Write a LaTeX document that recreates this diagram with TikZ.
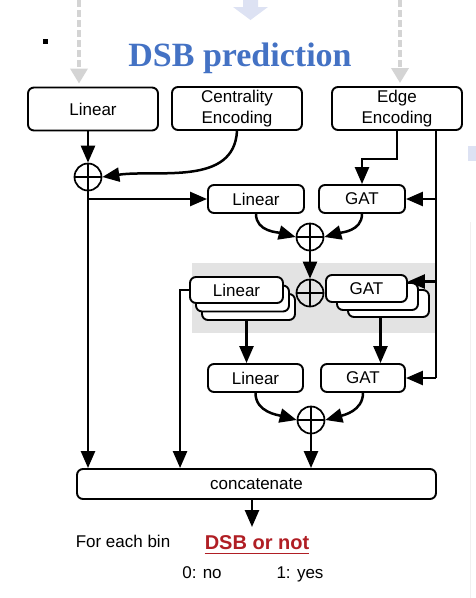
\documentclass[tikz,border=0pt]{standalone}
\usepackage{fontspec}
\setmainfont{Liberation Sans}
\newfontfamily\titlefont{Liberation Serif}
\usetikzlibrary{arrows.meta}
\definecolor{titleblue}{RGB}{68,114,196}
\definecolor{dsbred}{RGB}{176,30,36}
\definecolor{bandgrey}{RGB}{227,227,227}
\definecolor{hintgrey}{RGB}{212,212,212}
\definecolor{hintblue}{RGB}{221,226,243}
\begin{document}
\begin{tikzpicture}[x=1pt, y=1pt, font=\fontsize{17}{21}\selectfont,
    blk/.style={draw, fill=white, line width=1.9pt, rounded corners=6pt, inner sep=2pt, align=center},
    plus/.style={circle, draw, line width=1.7pt, minimum size=27pt, inner sep=0pt,
      path picture={\draw[line width=1.7pt] (path picture bounding box.north) -- (path picture bounding box.south)
        (path picture bounding box.west) -- (path picture bounding box.east);}},
    arr/.style={line width=2.5pt, -{Triangle[length=17pt,width=14pt]}},
    link/.style={line width=2.5pt},
    hint/.style={hintgrey, line width=3.5pt, dash pattern=on 7pt off 3pt, -{Triangle[length=15pt,width=17pt]}}]
    \useasboundingbox (0,0) rectangle (476,-598);

    \fill (43,-39) rectangle (48,-44);
    \fill[hintblue] (243,0) -- (258,0) -- (258,-7) -- (268,-7) -- (250.5,-20) -- (233,-7) -- (243,-7) -- cycle;
    \fill[hintblue] (468,-146) rectangle (476,-161);
    \draw[gray!12, line width=1pt] (470,-222) -- (470,-598);
    \fill[bandgrey] (192,-263) rectangle (436,-333);

    \node[font=\titlefont\bfseries\fontsize{34}{40}\selectfont, text=titleblue, anchor=base] (title) at (240,-66) {DSB prediction};

    \node[blk, minimum width=130pt, minimum height=43pt] (lin1) at (93,-109) {Linear};
    \node[blk, minimum width=130pt, minimum height=43pt] (cen) at (237,-108.5) {Centrality\\Encoding};
    \node[blk, minimum width=130pt, minimum height=43pt] (edge) at (397,-108.5) {Edge\\Encoding};

    \node[plus] (p1) at (88,-177) {};

    \node[blk, minimum width=96pt, minimum height=28pt] (lin2) at (256,-199) {Linear};
    \node[blk, minimum width=86pt, minimum height=28pt] (gat2) at (362,-199) {GAT};
    \node[plus] (p2) at (310,-237) {};

    \node[blk, minimum width=93pt, minimum height=26pt] (lin3c) at (248.5,-307) {};
    \node[blk, minimum width=93pt, minimum height=26pt] (lin3b) at (242.5,-298.5) {};
    \node[blk, minimum width=93pt, minimum height=26pt] (lin3) at (236.5,-290) {Linear};
    \node[blk, minimum width=81pt, minimum height=27pt] (gat3c) at (388.5,-303.5) {};
    \node[blk, minimum width=81pt, minimum height=27pt] (gat3b) at (377.5,-296.5) {};
    \node[blk, minimum width=81pt, minimum height=27pt] (gat3) at (366.5,-288.5) {GAT};
    \node[plus] (p3) at (310,-293) {};

    \node[blk, minimum width=95pt, minimum height=28pt] (lin4) at (255.5,-378) {Linear};
    \node[blk, minimum width=84pt, minimum height=28pt] (gat4) at (363,-378) {GAT};
    \node[plus] (p4) at (311,-420) {};

    \node[blk, minimum width=359pt, minimum height=30pt] (cat) at (256.5,-484) {concatenate};

    \node[anchor=base] (bin) at (123,-547) {For each bin};
    \node[anchor=base, inner sep=0pt, font=\bfseries\fontsize{20}{24}\selectfont, text=dsbred] (dsb) at (257,-549) {DSB or not};
    \node[anchor=base] (no) at (202,-578) {0: no};
    \node[anchor=base] (yes) at (300,-578) {1: yes};
    \draw[dsbred, line width=1.8pt] ([yshift=-4.5pt]dsb.base west) -- ([yshift=-4.5pt]dsb.base east);

    \coordinate (inL) at (79,0);
    \coordinate (inE) at (400,0);
    \draw[hint, shorten >=3pt] (inL) -- (inL |- lin1.north);
    \draw[hint, shorten >=3pt] (inE) -- (inE |- edge.north);

    \draw[arr] (lin1.south -| p1) -- (p1);
    \draw[arr] (cen.south) to[out=-93, in=8] (p1.east);
    \draw[arr] (p1.south) -- (p1.south |- cat.north);
    \draw[arr] (p1.south |- lin2.west) -- (lin2.west);

    \draw[arr] (edge.south) -- ++(0,-28) -| (gat2.north);
    \coordinate (rt) at (436,-130.5);
    \draw[link] (rt) -- (rt |- gat4.east);
    \draw[arr] (rt |- gat2.east) -- (gat2.east);
    \draw[arr] ([yshift=7pt]gat3.east -| rt) -- ([yshift=7pt]gat3.east);
    \draw[arr] (rt |- gat4.east) -- (gat4.east);

    \draw[arr] (lin2.south) to[out=-90, in=165] (p2.west);
    \draw[arr] (gat2.south) to[out=-90, in=15] (p2.east);
    \draw[arr] (p2) -- (p3);

    \draw[arr] (lin3.west) -- ++(-9,0) coordinate (lk) -- (lk |- cat.north);
    \draw[arr] ([xshift=-2pt]lin3c.south) -- ([xshift=-2pt]lin3c.south |- lin4.north);
    \draw[arr] ([xshift=-8pt]gat3c.south) -- ([xshift=-8pt]gat3c.south |- gat4.north);

    \draw[arr] (lin4.south) to[out=-90, in=165] (p4.west);
    \draw[arr] (gat4.south) to[out=-90, in=15] (p4.east);
    \draw[arr] (p4) -- (p4 |- cat.north);

    \coordinate (out) at (252,-527);
    \draw[arr] (cat.south -| out) -- (out);
\end{tikzpicture}
\end{document}
